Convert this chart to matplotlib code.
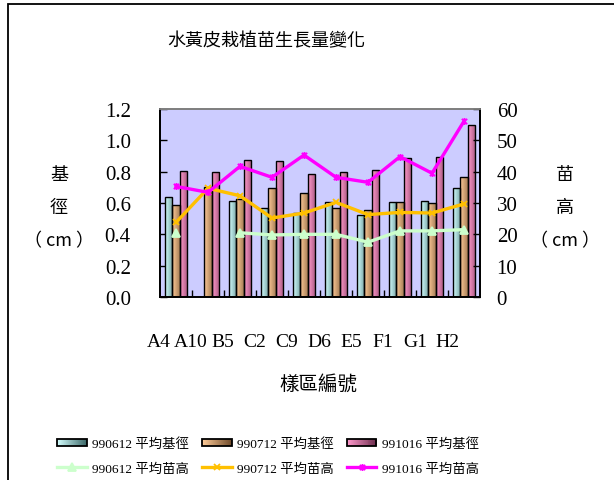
import numpy as np
import matplotlib
matplotlib.use("Agg")
import matplotlib.pyplot as plt
import matplotlib.transforms as mtransforms
from matplotlib.colors import LinearSegmentedColormap
from matplotlib.legend_handler import HandlerBase
from matplotlib.patches import Rectangle
from matplotlib.path import Path

plt.rcParams["font.family"] = ["Liberation Serif", "Noto Sans CJK TC"]

# ── data ───────────────────────────────────────────────────────────────────────
sites = ["A4", "A10", "B5", "C2", "C9", "D6", "E5", "F1", "G1", "H2"]

# mean base diameter (cm)
dia_990612 = [0.64, np.nan, 0.615, 0.57, 0.535, 0.605, 0.525, 0.605, 0.615, 0.695]
dia_990712 = [0.585, 0.70, 0.625, 0.695, 0.665, 0.57, 0.555, 0.605, 0.60, 0.765]
dia_991016 = [0.805, 0.795, 0.875, 0.865, 0.785, 0.795, 0.81, 0.885, 0.895, 1.10]

# mean seedling height (cm)
ht_990612 = [20.3, np.nan, 20.5, 19.8, 20.0, 20.0, 17.5, 21.1, 21.1, 21.5]
ht_990712 = [23.8, 34.7, 32.3, 25.2, 26.8, 30.2, 26.3, 27.0, 26.8, 29.7]
ht_991016 = [35.3, 33.4, 41.7, 38.2, 45.3, 38.2, 36.6, 44.8, 39.5, 56.1]

bar_labels = ["990612 平均基徑", "990712 平均基徑", "991016 平均基徑"]
line_labels = ["990612 平均苗高", "990712 平均苗高", "991016 平均苗高"]

# ── styles ─────────────────────────────────────────────────────────────────────
W, H = 614, 481
CJK = ["Noto Sans CJK TC", "DejaVu Sans"]
BAR_CMAPS = [
    LinearSegmentedColormap.from_list("cy", ["#D4FFFF", "#3A6666"]),
    LinearSegmentedColormap.from_list("tn", ["#FFCC99", "#6E4A2A"]),
    LinearSegmentedColormap.from_list("pk", ["#FF99CC", "#6E2E4E"]),
]
LINE_COLORS = ["#CCFFCC", "#FFC000", "#FF00FF"]
STAR = Path([(-1, -1), (1, 1), (-1, 1), (1, -1), (0, -1.3), (0, 1.3)],
            [Path.MOVETO, Path.LINETO, Path.MOVETO, Path.LINETO, Path.MOVETO, Path.LINETO])
MARKERS = ["^", "x", STAR]


class GradientHandler(HandlerBase):
    """Legend key drawn as a horizontal colour ramp with a black outline."""

    def __init__(self, cmap, **kw):
        super().__init__(**kw)
        self.cmap = cmap

    def create_artists(self, legend, orig_handle, xdescent, ydescent,
                       width, height, fontsize, trans):
        n = 30
        hh = height * 0.75
        y0 = -ydescent + (height - hh) / 2
        arts = []
        for i in range(n):
            arts.append(Rectangle((-xdescent + width * i / n, y0), width / n + 0.3, hh,
                                  facecolor=self.cmap((i + 0.5) / n), edgecolor="none",
                                  transform=trans))
        arts.append(Rectangle((-xdescent, y0), width, hh, fill=False,
                              edgecolor="black", linewidth=1.3, transform=trans))
        return arts


fig = plt.figure(figsize=(W / 100, H / 100), dpi=100)
ax = fig.add_axes([160 / W, 1 - 298 / H, 320 / W, 188 / H])
ax.set_facecolor("#CCCCFF")
ax2 = ax.twinx()

x = np.arange(len(sites))
bw = 0.22
bar_sets = []
for k, (vals, cmap) in enumerate(zip([dia_990612, dia_990712, dia_991016], BAR_CMAPS)):
    bars = ax.bar(x + (k - 1) * bw, vals, width=bw, fill=False,
                  edgecolor="black", linewidth=1.0, zorder=3)
    grad = np.linspace(0, 0.6, 64).reshape(1, -1)
    for p in bars.patches:
        h = p.get_height()
        if not np.isfinite(h):
            continue
        x0 = p.get_x()
        im = ax.imshow(grad, cmap=cmap, vmin=0, vmax=1, aspect="auto",
                       extent=(x0, x0 + p.get_width(), 0, h),
                       interpolation="bilinear", zorder=2)
        im.set_clip_path(p)
    bar_sets.append(bars)

lines = []
for vals, color, mk in zip([ht_990612, ht_990712, ht_991016], LINE_COLORS, MARKERS):
    ln, = ax2.plot(x, vals, color=color, linewidth=2.4, marker=mk,
                   markersize=6 if mk == "^" else 5, markeredgewidth=1.3,
                   markerfacecolor=color, markeredgecolor=color, zorder=4)
    lines.append(ln)

# ── axes ───────────────────────────────────────────────────────────────────────
ax.set_xlim(-0.5, len(sites) - 0.5)
ax.set_ylim(0, 1.2)
ax2.set_ylim(0, 60)

ax.set_yticks(np.arange(0, 1.21, 0.2))
ax.set_yticklabels([f"{v:.1f}" for v in np.arange(0, 1.21, 0.2)])
ax2.set_yticks(np.arange(0, 61, 10))

ax.set_xticks(x)
ax.set_xticklabels(sites)
ax.set_xticks(np.arange(0.5, len(sites) - 1, 1.0), minor=True)
ax.tick_params(axis="x", which="major", length=0, pad=26, labelsize=14)
ax.tick_params(axis="x", which="minor", direction="in", length=5, width=1)
ax.tick_params(axis="y", direction="in", length=5, width=1, pad=21, labelsize=15)
ax2.tick_params(axis="y", direction="in", length=5, width=1, pad=12, labelsize=15)

shift = mtransforms.ScaledTranslation(-17 / 100, 0, fig.dpi_scale_trans)
for lab in ax.get_xticklabels():
    lab.set_transform(lab.get_transform() + shift)

for a in (ax, ax2):
    for side in ("left", "right", "bottom"):
        a.spines[side].set_color("black")
        a.spines[side].set_linewidth(1.3)
    a.spines["top"].set_color("#808080")
    a.spines["top"].set_linewidth(1.3)

# ── texts ──────────────────────────────────────────────────────────────────────
fig.text(266 / W, 1 - 41 / H, "水黃皮栽植苗生長量變化", ha="center", va="center",
         fontsize=13, family=CJK)
fig.text(318 / W, 1 - 384 / H, "樣區編號", ha="center", va="center", fontsize=14, family=CJK)
fig.text(59 / W, 1 - 208 / H, "基\n徑\n（ cm ）", ha="center", va="center",
         fontsize=13, linespacing=2.1, family=CJK)
fig.text(565 / W, 1 - 208 / H, "苗\n高\n（ cm ）", ha="center", va="center",
         fontsize=13, linespacing=2.1, family=CJK)

# outer chart frame
fig.add_artist(Rectangle((8 / W, -0.2), 1.5, 1.2 - 5 / H, transform=fig.transFigure,
                         fill=False, edgecolor="black", linewidth=1.3, clip_on=False))

# ── legend ─────────────────────────────────────────────────────────────────────
handles, labels, hmap = [], [], {}
for bars, ln, bl, ll, cmap in zip(bar_sets, lines, bar_labels, line_labels, BAR_CMAPS):
    handles += [bars, ln]
    labels += [bl, ll]
    hmap[bars] = GradientHandler(cmap)
fig.legend(handles, labels, handler_map=hmap, ncol=3, frameon=False,
           loc="center", bbox_to_anchor=(268 / W, 1 - 457 / H),
           fontsize=9.6, handlelength=2.2, handleheight=0.8, handletextpad=0.4,
           columnspacing=1.0, labelspacing=0.9)

fig.savefig("out.png", dpi=100)
